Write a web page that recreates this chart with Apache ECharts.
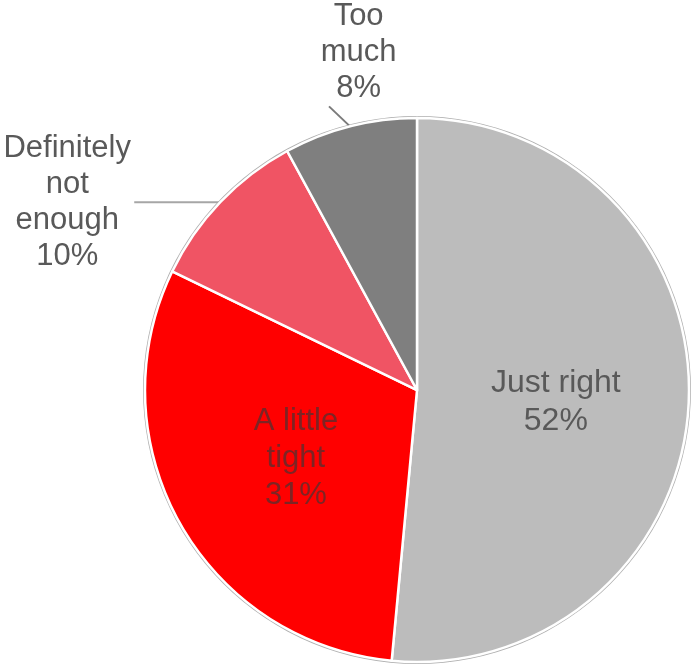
<!DOCTYPE html>
<html>
<head>
<meta charset="utf-8">
<script src="https://cdn.jsdelivr.net/npm/echarts@6/dist/echarts.min.js"></script>
<style>html,body{margin:0;padding:0;background:#fff}#c{width:695px;height:670px}</style>
</head>
<body>
<div id="c"></div>
<script>
const categories = ['Just right', 'A little tight', 'Definitely not enough', 'Too much'];
const labelLines = [['Just right'], ['A little', 'tight'], ['Definitely', 'not', 'enough'], ['Too', 'much']];
const values = [52, 31, 10, 8];
const colors = ['#bcbcbc', '#ff0000', '#f05464', '#7f7f7f'];

const chart = echarts.init(document.getElementById('c'));
const font = '"Liberation Sans", Arial, sans-serif';

function labelText(i) {
  return labelLines[i].concat([values[i] + '%']).map(s => '{a|' + s + '}').join('\n');
}

const itemLabelCfg = [
  { position: 'inside', padding: [12, 0, 0, 0], rich: { a: { color: '#595959', fontSize: 32, lineHeight: 38, fontFamily: font, width: 150, align: 'center' } } },
  { position: 'inside', rich: { a: { color: '#7d2424', fontSize: 31, lineHeight: 37, fontFamily: font, width: 140, align: 'center' } } },
  { position: 'outside', distanceToLabelLine: 2, padding: [0, 0, 0, 0],
    rich: { a: { color: '#595959', fontSize: 31, lineHeight: 36, fontFamily: font, width: 130, align: 'center' } } },
  { position: 'outside', distanceToLabelLine: -76, padding: [0, 0, 90, 0],
    rich: { a: { color: '#595959', fontSize: 31, lineHeight: 36, fontFamily: font, width: 120, align: 'center' } } }
];
const itemLineCfg = [
  { show: false },
  { show: false },
  { show: true, length: 0, length2: 86, lineStyle: { color: '#a6a6a6', width: 2 } },
  { show: true, length: 30, length2: 0, lineStyle: { color: '#7a7a7a', width: 2 } }
];

const data = categories.map((c, i) => ({
  name: c,
  value: values[i],
  itemStyle: { color: colors[i] },
  label: Object.assign({ show: true, formatter: labelText(i) }, itemLabelCfg[i]),
  labelLine: itemLineCfg[i]
}));

chart.setOption({
  animation: false,
  backgroundColor: '#ffffff',
  series: [
    {
      type: 'pie',
      silent: true,
      center: [417, 390],
      radius: [272, 274],
      startAngle: 90,
      label: { show: false },
      labelLine: { show: false },
      itemStyle: { color: '#b0b0b0', borderWidth: 0 },
      data: [{ value: 1, name: 'ring' }],
      z: 1
    },
    {
      type: 'pie',
      center: [417, 390],
      radius: [0, 272],
      startAngle: 90,
      clockwise: true,
      avoidLabelOverlap: false,
      itemStyle: { borderColor: '#ffffff', borderWidth: 2.5 },
      labelLine: { maxSurfaceAngle: 180, smooth: false },
      labelLayout: function (params) {
        if (params.dataIndex === 3 && params.labelLinePoints) {
          const p0 = params.labelLinePoints[0];
          return { labelLinePoints: [[p0[0], p0[1]], [p0[0] - 21, p0[1] - 20]] };
        }
        return {};
      },
      data: data,
      z: 2
    }
  ]
});
</script>
</body>
</html>
